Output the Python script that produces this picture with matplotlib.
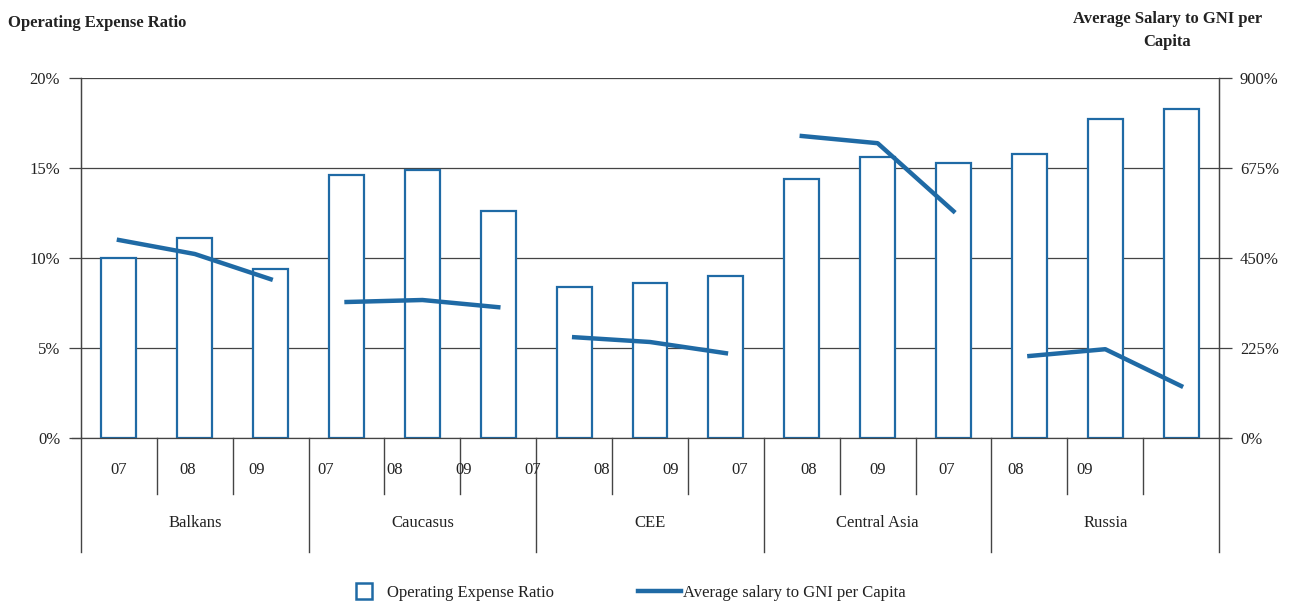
import numpy as np
import matplotlib
matplotlib.use("Agg")
import matplotlib.pyplot as plt
from matplotlib.lines import Line2D

plt.rcParams['font.family'] = ['Liberation Serif', 'DejaVu Serif']

regions = ["Balkans", "Caucasus", "CEE", "Central Asia", "Russia"]
years = ["07", "08", "09"]

# operating expense ratio, % (left axis)
oer = [10.0, 11.1, 9.4,
       14.6, 14.9, 12.6,
       8.4, 8.6, 9.0,
       14.4, 15.6, 15.3,
       15.8, 17.7, 18.3]

# average salary to GNI per capita, % (right axis)
salary = [495, 460, 397,
          340, 345, 327,
          252, 240, 212,
          755, 737, 567,
          205, 222, 130]

blue = "#1f6aa5"
grey = "#444444"

fig = plt.figure(figsize=(12.94, 6.08), dpi=100)
ax = fig.add_axes([0.0626, 0.2796, 0.8795, 0.5921])
ax2 = ax.twinx()

n = len(oer)
x = np.arange(n)
ax.bar(x, oer, width=0.46, facecolor="white", edgecolor=blue, linewidth=1.6, zorder=3)
ax.set_xlim(-0.5, n - 0.5)
ax.set_ylim(0, 20)
ax.set_yticks([0, 5, 10, 15, 20])
ax.set_yticklabels(["0%", "5%", "10%", "15%", "20%"])
ax.grid(axis="y", color=grey, linewidth=0.9, zorder=0)
ax.set_axisbelow(True)

for g in range(len(regions)):
    xs = x[g * 3:(g + 1) * 3]
    ys = salary[g * 3:(g + 1) * 3]
    ax2.plot(xs, ys, color=blue, linewidth=3.2, solid_capstyle="projecting", zorder=4)
ax2.set_ylim(0, 900)
ax2.set_yticks([0, 225, 450, 675, 900])
ax2.set_yticklabels(["0%", "225%", "450%", "675%", "900%"])

for a in (ax, ax2):
    a.tick_params(axis="y", labelsize=12, length=9, width=0.9, color=grey,
                  pad=6, labelcolor="#222222")
    for s in a.spines.values():
        s.set_color(grey)
        s.set_linewidth(0.9)
    a.spines["top"].set_visible(False)
ax.spines["bottom"].set_visible(False)
ax2.spines["bottom"].set_visible(False)
ax.set_xticks([])

# axis line at 0, extended over the tick marks
ax.plot([-0.62, n - 0.38], [0, 0], color=grey, linewidth=0.9, clip_on=False, zorder=5)

# category separators under the axis
trans = ax.get_xaxis_transform()
for i in range(n + 1):
    xb = i - 0.5
    if i % 3 == 0:
        ax.plot([xb, xb], [0, -0.317], color=grey, linewidth=1.0, transform=trans, clip_on=False)
    else:
        ax.plot([xb, xb], [0, -0.156], color=grey, linewidth=1.0, transform=trans, clip_on=False)

# year labels (spaced as in the original)
for i in range(n):
    ax.text(i * 0.9094, -0.089, years[i % 3], transform=trans, ha="center", va="center",
            fontsize=12, color="#222222")
for g, r in enumerate(regions):
    ax.text(g * 3 + 1, -0.236, r, transform=trans, ha="center", va="center",
            fontsize=12, color="#222222")

fig.text(0.006, 0.962, "Operating Expense Ratio", fontsize=12, fontweight="bold",
         ha="left", va="center", color="#222222")
fig.text(0.902, 0.95, "Average Salary to GNI per\nCapita", fontsize=12, fontweight="bold",
         ha="center", va="center", color="#222222", linespacing=1.55)

handles = [Line2D([], [], marker="s", markersize=12, markerfacecolor="white",
                  markeredgecolor=blue, markeredgewidth=1.8, linestyle="none"),
           Line2D([], [], color=blue, linewidth=3.2)]
fig.legend(handles, ["Operating Expense Ratio", "Average salary to GNI per Capita"],
           loc="center", bbox_to_anchor=(0.482, 0.025), ncol=2, frameon=False,
           fontsize=12, columnspacing=5.0, handlelength=2.6, handletextpad=0.1,
           labelcolor="#222222")

fig.savefig("out.png", dpi=100)
